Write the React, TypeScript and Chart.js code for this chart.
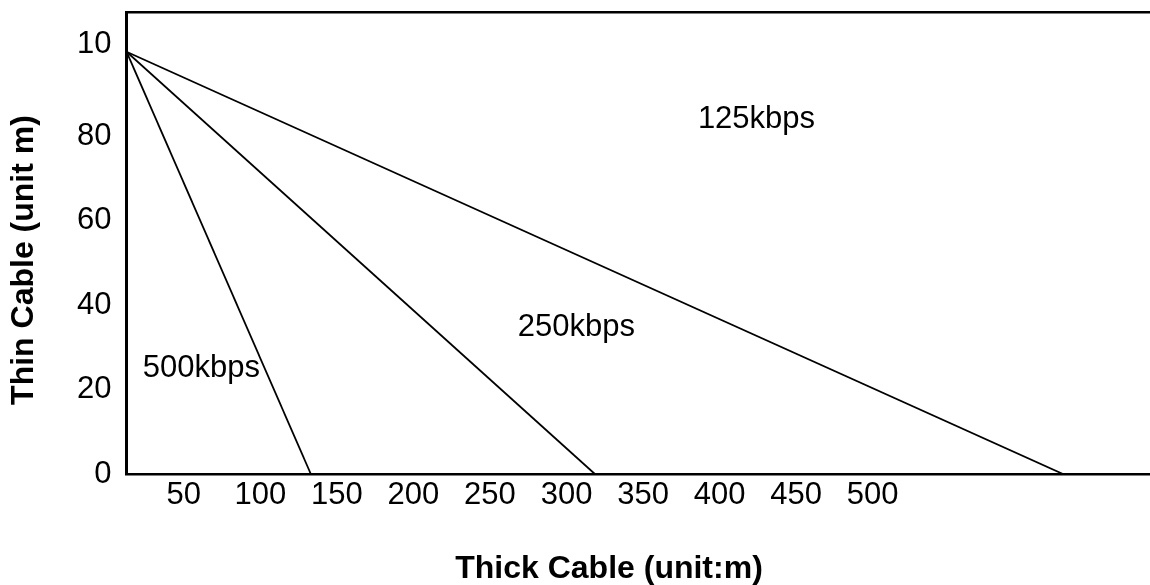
import React, { useEffect, useRef } from "react";
import { Chart, registerables } from "chart.js";

Chart.register(...registerables);

// ---- data ----
const seriesNames = ["500kbps", "250kbps", "125kbps"];
const thickStart = 12.6; // where every line starts on the thick-cable axis
const thinStart = 100; // thin cable length at zero thick cable
const thickEnd = [133, 318.5, 624.3]; // thick cable length at zero thin cable
const labelThick = [23.2, 268.2, 385.8];
const labelThin = [23.0, 32.7, 82.0];

const xTickValues = [50, 100, 150, 200, 250, 300, 350, 400, 450, 500];
const xTickLabels = ["50", "100", "150", "200", "250", "300", "350", "400", "450", "500"];
const yTickValues = [0, 20, 40, 60, 80, 101.8];
const yTickLabels = ["0", "20", "40", "60", "80", "10"];

const xMin = 12.6;
const xMax = 681.1;
const yMin = 0;
const yMax = 109.4;

const xTitle = "Thick Cable (unit:m)";
const yTitle = "Thin Cable (unit m)";

const FONT = "'Liberation Sans', Arial, Helvetica, sans-serif";

const overlay = {
  id: "overlay",
  afterDraw(chart: any) {
    const { ctx, scales } = chart;
    ctx.save();
    ctx.fillStyle = "#000";
    ctx.font = `31px ${FONT}`;
    ctx.textAlign = "left";
    ctx.textBaseline = "alphabetic";
    seriesNames.forEach((name, i) => {
      ctx.fillText(
        name,
        scales.x.getPixelForValue(labelThick[i]),
        scales.y.getPixelForValue(labelThin[i])
      );
    });
    // axis titles
    ctx.font = `bold 32px ${FONT}`;
    ctx.textAlign = "center";
    ctx.textBaseline = "middle";
    ctx.fillText(xTitle, 609, 569);
    ctx.translate(24, 260);
    ctx.rotate(-Math.PI / 2);
    ctx.fillText(yTitle, 0, 0);
    ctx.restore();
  },
};

const noPad = (s: any) => {
  s.paddingTop = 0;
  s.paddingBottom = 0;
  s.paddingLeft = 0;
  s.paddingRight = 0;
};

export default function App() {
  const ref = useRef<HTMLCanvasElement | null>(null);

  useEffect(() => {
    document.body.style.margin = "0";
    if (!ref.current) return;
    const chart = new Chart(ref.current, {
      type: "line",
      data: {
        datasets: seriesNames.map((name, i) => ({
          label: name,
          data: [
            { x: thickStart, y: thinStart },
            { x: thickEnd[i], y: 0 },
          ],
          borderColor: "#000",
          borderWidth: 1.8,
          pointRadius: 0,
          fill: false,
          tension: 0,
        })),
      },
      options: {
        animation: false,
        responsive: false,
        devicePixelRatio: 1,
        layout: { padding: { left: 0, top: 12, right: 0, bottom: 0 } },
        plugins: { legend: { display: false }, tooltip: { enabled: false } },
        scales: {
          x: {
            type: "linear",
            position: "bottom",
            min: xMin,
            max: xMax,
            grid: { display: false, drawTicks: false },
            border: { display: true, color: "#000", width: 2.5 },
            afterBuildTicks: (s: any) => {
              s.ticks = xTickValues.map((v) => ({ value: v }));
            },
            afterFit: (s: any) => {
              s.height = 111;
              noPad(s);
            },
            ticks: {
              autoSkip: false,
              maxRotation: 0,
              padding: 3,
              color: "#000",
              font: { family: FONT, size: 31 },
              callback: (_v: any, i: number) => xTickLabels[i],
            },
          },
          x2: {
            type: "linear",
            position: "top",
            grid: { display: false, drawTicks: false },
            border: { display: true, color: "#000", width: 2.5 },
            ticks: { display: false },
            afterFit: (s: any) => {
              s.height = 0;
              noPad(s);
            },
          },
          y: {
            type: "linear",
            position: "left",
            min: yMin,
            max: yMax,
            grid: { display: false, drawTicks: false },
            border: { display: true, color: "#000", width: 3 },
            afterBuildTicks: (s: any) => {
              s.ticks = yTickValues.map((v) => ({ value: v }));
            },
            afterFit: (s: any) => {
              s.width = 126.5;
              noPad(s);
            },
            ticks: {
              autoSkip: false,
              padding: 15,
              color: "#000",
              font: { family: FONT, size: 31 },
              callback: (_v: any, i: number) => yTickLabels[i],
            },
          },
        },
      },
      plugins: [overlay],
    });
    return () => chart.destroy();
  }, []);

  return (
    <div style={{ width: 1150, height: 585, background: "#fff" }}>
      <canvas ref={ref} width={1150} height={585} />
    </div>
  );
}
